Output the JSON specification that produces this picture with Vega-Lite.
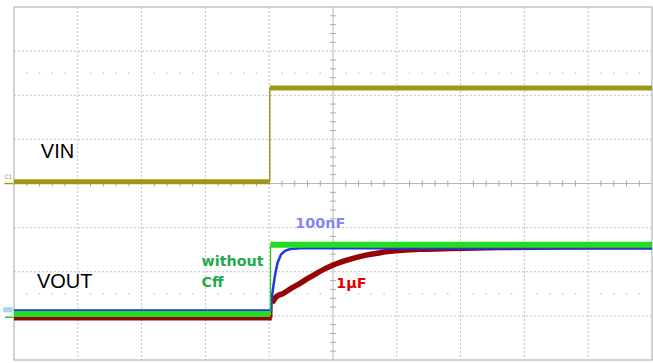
{
  "$schema": "https://vega.github.io/schema/vega-lite/v6.json",
  "width": 638,
  "height": 353,
  "autosize": {"type": "none"},
  "padding": {"left": 14, "top": 7, "right": 1, "bottom": 3},
  "background": "#ffffff",
  "config": {"view": {"stroke": "#c4c4c4", "strokeWidth": 1.5}, "axis": {"disable": true}},
  "datasets": {
    "gridv": [{"x": 1}, {"x": 2}, {"x": 3}, {"x": 4}, {"x": 6}, {"x": 7}, {"x": 8}, {"x": 9}],
    "gridh": [{"y": 1}, {"y": 2}, {"y": 3}, {"y": 5}, {"y": 6}, {"y": 7}],
    "xt": [{"x": 0.2}, {"x": 0.4}, {"x": 0.6}, {"x": 0.8}, {"x": 1.2}, {"x": 1.4}, {"x": 1.6}, {"x": 1.8}, {"x": 2.2}, {"x": 2.4}, {"x": 2.6}, {"x": 2.8}, {"x": 3.2}, {"x": 3.4}, {"x": 3.6}, {"x": 3.8}, {"x": 4.2}, {"x": 4.4}, {"x": 4.6}, {"x": 4.8}, {"x": 5.2}, {"x": 5.4}, {"x": 5.6}, {"x": 5.8}, {"x": 6.2}, {"x": 6.4}, {"x": 6.6}, {"x": 6.8}, {"x": 7.2}, {"x": 7.4}, {"x": 7.6}, {"x": 7.8}, {"x": 8.2}, {"x": 8.4}, {"x": 8.6}, {"x": 8.8}, {"x": 9.2}, {"x": 9.4}, {"x": 9.6}, {"x": 9.8}],
    "yt": [{"y": 0.2}, {"y": 0.4}, {"y": 0.6}, {"y": 0.8}, {"y": 1.2}, {"y": 1.4}, {"y": 1.6}, {"y": 1.8}, {"y": 2.2}, {"y": 2.4}, {"y": 2.6}, {"y": 2.8}, {"y": 3.2}, {"y": 3.4}, {"y": 3.6}, {"y": 3.8}, {"y": 4.2}, {"y": 4.4}, {"y": 4.6}, {"y": 4.8}, {"y": 5.2}, {"y": 5.4}, {"y": 5.6}, {"y": 5.8}, {"y": 6.2}, {"y": 6.4}, {"y": 6.6}, {"y": 6.8}, {"y": 7.2}, {"y": 7.4}, {"y": 7.6}, {"y": 7.8}],
    "traces": [
      {"s": "vin", "seg": "lo", "x": 0, "y": 4.04},
      {"s": "vin", "seg": "lo", "x": 4.01, "y": 4.04},
      {"s": "vin", "seg": "hi", "x": 4.01, "y": 6.164},
      {"s": "vin", "seg": "hi", "x": 10, "y": 6.164},
      {"s": "red", "seg": "lo", "x": 0, "y": 0.955},
      {"s": "red", "seg": "lo", "x": 4.04, "y": 0.955},
      {"s": "red", "seg": "hi", "x": 4.044, "y": 1.292},
      {"s": "red", "seg": "hi", "x": 4.107, "y": 1.428},
      {"s": "red", "seg": "hi", "x": 4.221, "y": 1.512},
      {"s": "red", "seg": "hi", "x": 4.35, "y": 1.63},
      {"s": "red", "seg": "hi", "x": 4.483, "y": 1.738},
      {"s": "red", "seg": "hi", "x": 4.62, "y": 1.86},
      {"s": "red", "seg": "hi", "x": 4.745, "y": 1.965},
      {"s": "red", "seg": "hi", "x": 4.87, "y": 2.065},
      {"s": "red", "seg": "hi", "x": 5.005, "y": 2.153},
      {"s": "red", "seg": "hi", "x": 5.18, "y": 2.245},
      {"s": "red", "seg": "hi", "x": 5.371, "y": 2.327},
      {"s": "red", "seg": "hi", "x": 5.52, "y": 2.378},
      {"s": "red", "seg": "hi", "x": 5.685, "y": 2.418},
      {"s": "red", "seg": "hi", "x": 5.893, "y": 2.463},
      {"s": "red", "seg": "hi", "x": 6.12, "y": 2.49},
      {"s": "red", "seg": "hi", "x": 6.364, "y": 2.508},
      {"s": "red", "seg": "hi", "x": 6.834, "y": 2.527},
      {"s": "red", "seg": "hi", "x": 7.618, "y": 2.55},
      {"s": "red", "seg": "hi", "x": 8.558, "y": 2.561},
      {"s": "red", "seg": "hi", "x": 10, "y": 2.565},
      {"s": "blue", "seg": "lo", "x": 0, "y": 1.122},
      {"s": "blue", "seg": "lo", "x": 4.028, "y": 1.122},
      {"s": "blue", "seg": "lo", "x": 4.036, "y": 1.36},
      {"s": "blue", "seg": "lo", "x": 4.06, "y": 1.62},
      {"s": "blue", "seg": "lo", "x": 4.091, "y": 1.92},
      {"s": "blue", "seg": "lo", "x": 4.13, "y": 2.2},
      {"s": "blue", "seg": "lo", "x": 4.185, "y": 2.39},
      {"s": "blue", "seg": "lo", "x": 4.248, "y": 2.475},
      {"s": "blue", "seg": "lo", "x": 4.326, "y": 2.516},
      {"s": "blue", "seg": "lo", "x": 4.483, "y": 2.53},
      {"s": "blue", "seg": "lo", "x": 10, "y": 2.53},
      {"s": "green", "seg": "lo", "x": 0, "y": 1.043},
      {"s": "green", "seg": "lo", "x": 4.02, "y": 1.043},
      {"s": "green", "seg": "hi", "x": 4.02, "y": 2.612},
      {"s": "green", "seg": "hi", "x": 10, "y": 2.612}
    ],
    "steps": [
      {"s": "vin", "x": 4.01, "y": 4.04, "y2": 6.164},
      {"s": "red", "x": 4.04, "y": 0.955, "y2": 1.292},
      {"s": "green", "x": 4.02, "y": 1.043, "y2": 2.612}
    ],
    "labels": [
      {"t": "VIN", "x": 0.42, "y": 4.585},
      {"t": "VOUT", "x": 0.36, "y": 1.625}
    ],
    "clabels": [
      {"t": "100nF", "c": "100nF", "x": 4.41, "y": 2.985},
      {"t": "without", "c": "without", "x": 2.94, "y": 2.137},
      {"t": "Cff", "c": "without", "x": 2.94, "y": 1.648},
      {"t": "1µF", "c": "1µF", "x": 5.05, "y": 1.625}
    ]
  },
  "layer": [
    {
      "data": {"name": "gridv"},
      "mark": {"type": "rule", "color": "#c2c2c2", "strokeWidth": 1, "strokeDash": [2, 2]},
      "encoding": {"x": {"field": "x", "type": "quantitative", "scale": {"domain": [0, 10], "nice": false, "zero": false}}}
    },
    {
      "data": {"name": "gridh"},
      "mark": {"type": "rule", "color": "#c2c2c2", "strokeWidth": 1, "strokeDash": [2, 2]},
      "encoding": {"y": {"field": "y", "type": "quantitative", "scale": {"domain": [0, 8], "nice": false, "zero": false}}}
    },
    {
      "data": {"values": [{"x": 5}]},
      "mark": {"type": "rule", "color": "#b8b8b8", "strokeWidth": 1},
      "encoding": {"x": {"field": "x", "type": "quantitative", "scale": {"domain": [0, 10], "nice": false, "zero": false}}}
    },
    {
      "data": {"values": [{"y": 4}]},
      "mark": {"type": "rule", "color": "#b8b8b8", "strokeWidth": 1},
      "encoding": {"y": {"field": "y", "type": "quantitative", "scale": {"domain": [0, 8], "nice": false, "zero": false}}}
    },
    {
      "data": {"name": "xt"},
      "mark": {"type": "rule", "color": "#a8a8a8", "strokeWidth": 1},
      "encoding": {
        "x": {"field": "x", "type": "quantitative", "scale": {"domain": [0, 10], "nice": false, "zero": false}},
        "y": {"datum": 3.93, "type": "quantitative", "scale": {"domain": [0, 8], "nice": false, "zero": false}},
        "y2": {"datum": 4.07}
      }
    },
    {
      "data": {"name": "yt"},
      "mark": {"type": "rule", "color": "#a8a8a8", "strokeWidth": 1},
      "encoding": {
        "y": {"field": "y", "type": "quantitative", "scale": {"domain": [0, 8], "nice": false, "zero": false}},
        "x": {"datum": 4.955, "type": "quantitative", "scale": {"domain": [0, 10], "nice": false, "zero": false}},
        "x2": {"datum": 5.045}
      }
    },
    {
      "data": {"name": "xt"},
      "mark": {"type": "square", "color": "#b0b0b0", "size": 2, "filled": true},
      "encoding": {
        "x": {"field": "x", "type": "quantitative", "scale": {"domain": [0, 10], "nice": false, "zero": false}},
        "y": {"datum": 6.5, "type": "quantitative", "scale": {"domain": [0, 8], "nice": false, "zero": false}}
      }
    },
    {
      "data": {"name": "xt"},
      "mark": {"type": "square", "color": "#b0b0b0", "size": 2, "filled": true},
      "encoding": {
        "x": {"field": "x", "type": "quantitative", "scale": {"domain": [0, 10], "nice": false, "zero": false}},
        "y": {"datum": 1.5, "type": "quantitative", "scale": {"domain": [0, 8], "nice": false, "zero": false}}
      }
    },
    {
      "data": {"name": "steps"},
      "transform": [{"filter": "datum.s === 'vin'"}],
      "mark": {"type": "rule", "color": "#8f8912", "strokeWidth": 1.3},
      "encoding": {
        "x": {"field": "x", "type": "quantitative", "scale": {"domain": [0, 10], "nice": false, "zero": false}},
        "y": {"field": "y", "type": "quantitative", "scale": {"domain": [0, 8], "nice": false, "zero": false}},
        "y2": {"field": "y2"}
      }
    },
    {
      "data": {"name": "traces"},
      "transform": [{"filter": "datum.s === 'vin'"}],
      "mark": {"type": "line", "color": "#9e9818", "strokeWidth": 5, "strokeCap": "butt"},
      "encoding": {
        "x": {"field": "x", "type": "quantitative", "scale": {"domain": [0, 10], "nice": false, "zero": false}},
        "y": {"field": "y", "type": "quantitative", "scale": {"domain": [0, 8], "nice": false, "zero": false}},
        "detail": {"field": "seg"}
      }
    },
    {
      "data": {"name": "steps"},
      "transform": [{"filter": "datum.s === 'red'"}],
      "mark": {"type": "rule", "color": "#9a0000", "strokeWidth": 1.5},
      "encoding": {
        "x": {"field": "x", "type": "quantitative", "scale": {"domain": [0, 10], "nice": false, "zero": false}},
        "y": {"field": "y", "type": "quantitative", "scale": {"domain": [0, 8], "nice": false, "zero": false}},
        "y2": {"field": "y2"}
      }
    },
    {
      "data": {"name": "traces"},
      "transform": [{"filter": "datum.s === 'red'"}],
      "mark": {"type": "line", "color": "#950505", "strokeWidth": 5.5, "strokeCap": "butt", "interpolate": "monotone"},
      "encoding": {
        "x": {"field": "x", "type": "quantitative", "scale": {"domain": [0, 10], "nice": false, "zero": false}},
        "y": {"field": "y", "type": "quantitative", "scale": {"domain": [0, 8], "nice": false, "zero": false}},
        "detail": {"field": "seg"}
      }
    },
    {
      "data": {"name": "traces"},
      "transform": [{"filter": "datum.s === 'blue'"}],
      "mark": {"type": "line", "color": "#2238e6", "strokeWidth": 2.5, "strokeCap": "butt"},
      "encoding": {
        "x": {"field": "x", "type": "quantitative", "scale": {"domain": [0, 10], "nice": false, "zero": false}},
        "y": {"field": "y", "type": "quantitative", "scale": {"domain": [0, 8], "nice": false, "zero": false}},
        "detail": {"field": "seg"}
      }
    },
    {
      "data": {"name": "steps"},
      "transform": [{"filter": "datum.s === 'green'"}],
      "mark": {"type": "rule", "color": "#22c822", "strokeWidth": 1.3},
      "encoding": {
        "x": {"field": "x", "type": "quantitative", "scale": {"domain": [0, 10], "nice": false, "zero": false}},
        "y": {"field": "y", "type": "quantitative", "scale": {"domain": [0, 8], "nice": false, "zero": false}},
        "y2": {"field": "y2"}
      }
    },
    {
      "data": {"name": "traces"},
      "transform": [{"filter": "datum.s === 'green'"}],
      "mark": {"type": "line", "color": "#22dd22", "strokeWidth": 6, "strokeCap": "butt"},
      "encoding": {
        "x": {"field": "x", "type": "quantitative", "scale": {"domain": [0, 10], "nice": false, "zero": false}},
        "y": {"field": "y", "type": "quantitative", "scale": {"domain": [0, 8], "nice": false, "zero": false}},
        "detail": {"field": "seg"}
      }
    },
    {
      "data": {"name": "labels"},
      "mark": {"type": "text", "align": "left", "baseline": "alphabetic", "font": "Liberation Sans", "fontSize": 20, "color": "#000000"},
      "encoding": {
        "x": {"field": "x", "type": "quantitative", "scale": {"domain": [0, 10], "nice": false, "zero": false}},
        "y": {"field": "y", "type": "quantitative", "scale": {"domain": [0, 8], "nice": false, "zero": false}},
        "text": {"field": "t"}
      }
    },
    {
      "data": {"name": "clabels"},
      "mark": {"type": "text", "align": "left", "baseline": "alphabetic", "font": "DejaVu Sans", "fontWeight": "bold", "fontSize": 14.3},
      "encoding": {
        "x": {"field": "x", "type": "quantitative", "scale": {"domain": [0, 10], "nice": false, "zero": false}},
        "y": {"field": "y", "type": "quantitative", "scale": {"domain": [0, 8], "nice": false, "zero": false}},
        "text": {"field": "t"},
        "color": {"field": "c", "type": "nominal", "scale": {"domain": ["100nF", "without", "1µF"], "range": ["#8585f2", "#1faa4c", "#e00000"]}, "legend": null}
      }
    },
    {
      "data": {"values": [{"t": "C1", "x": -0.15, "y": 4.1}]},
      "mark": {"type": "text", "align": "left", "baseline": "alphabetic", "font": "DejaVu Sans", "fontSize": 6, "color": "#9e9818"},
      "encoding": {
        "x": {"field": "x", "type": "quantitative", "scale": {"domain": [0, 10], "nice": false, "zero": false}},
        "y": {"field": "y", "type": "quantitative", "scale": {"domain": [0, 8], "nice": false, "zero": false}},
        "text": {"field": "t"}
      }
    },
    {
      "data": {"values": [{"x": -0.15, "x2": -0.01, "y": 4.0}]},
      "mark": {"type": "rule", "color": "#9e9818", "strokeWidth": 1.5},
      "encoding": {
        "x": {"field": "x", "type": "quantitative", "scale": {"domain": [0, 10], "nice": false, "zero": false}},
        "x2": {"field": "x2"},
        "y": {"field": "y", "type": "quantitative", "scale": {"domain": [0, 8], "nice": false, "zero": false}}
      }
    },
    {
      "data": {"values": [{"x": -0.17, "x2": -0.02, "y": 1.08, "y2": 1.2}]},
      "mark": {"type": "rect", "color": "#a8d8e8"},
      "encoding": {
        "x": {"field": "x", "type": "quantitative", "scale": {"domain": [0, 10], "nice": false, "zero": false}},
        "x2": {"field": "x2"},
        "y": {"field": "y", "type": "quantitative", "scale": {"domain": [0, 8], "nice": false, "zero": false}},
        "y2": {"field": "y2"}
      }
    },
    {
      "data": {"values": [{"x": -0.14, "x2": -0.01, "y": 0.97}]},
      "mark": {"type": "rule", "color": "#22cc22", "strokeWidth": 1.5},
      "encoding": {
        "x": {"field": "x", "type": "quantitative", "scale": {"domain": [0, 10], "nice": false, "zero": false}},
        "x2": {"field": "x2"},
        "y": {"field": "y", "type": "quantitative", "scale": {"domain": [0, 8], "nice": false, "zero": false}}
      }
    }
  ]
}
